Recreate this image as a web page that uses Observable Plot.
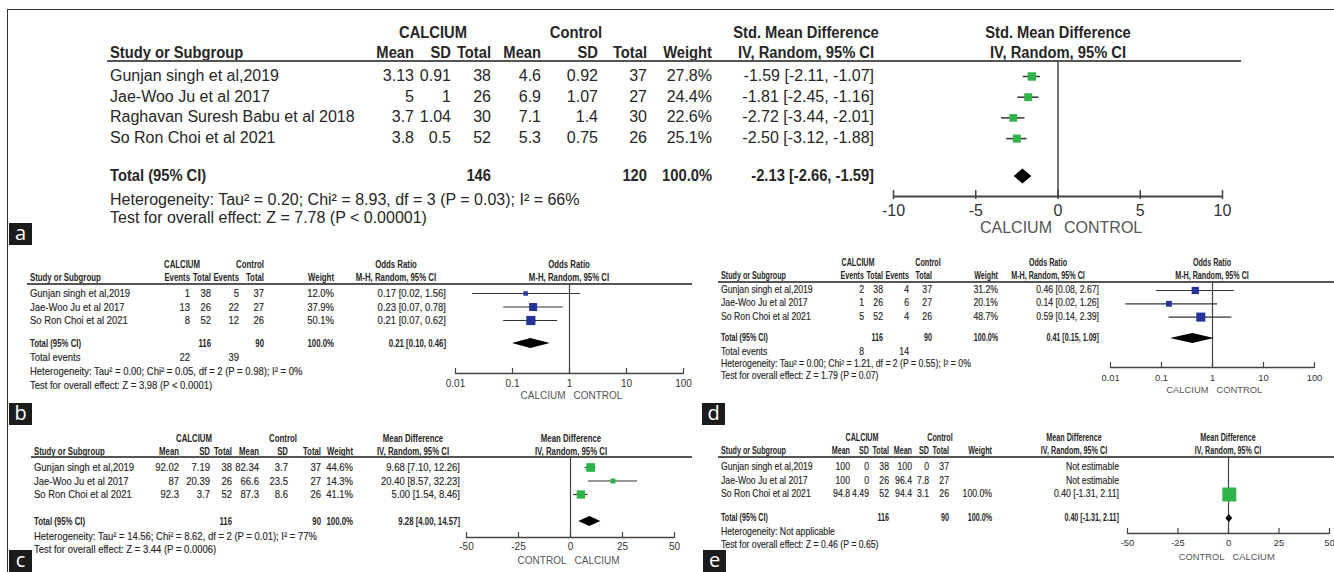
<!DOCTYPE html>
<html><head><meta charset="utf-8">
<script src="https://cdn.jsdelivr.net/npm/d3@7"></script>
<script src="https://cdn.jsdelivr.net/npm/@observablehq/plot@0.6"></script>
<style>
html,body{margin:0;padding:0;background:#fff;}
#root{position:relative;width:1334px;height:572px;overflow:hidden;font-family:"Liberation Sans",Arial,sans-serif;color:#262626;}
.t{position:absolute;white-space:nowrap;line-height:1;}
.lab{position:absolute;background:#1c1c1c;color:#fff;font-family:"Open Sans",sans-serif;font-size:20px;text-align:center;width:23px;height:22px;line-height:19px;}
</style></head><body><div id="root"></div>
<script>
// ---------------- DATA ----------------
// Panel a : Std. Mean Difference
const A_studies = ["Gunjan singh et al,2019","Jae-Woo Ju et al 2017","Raghavan Suresh Babu et al 2018","So Ron Choi et al 2021"];
const A_calMean = [3.13, 5, 3.7, 3.8];
const A_calSD = [0.91, 1, 1.04, 0.5];
const A_calN = [38, 26, 30, 52];
const A_conMean = [4.6, 6.9, 7.1, 5.3];
const A_conSD = [0.92, 1.07, 1.4, 0.75];
const A_conN = [37, 27, 30, 26];
const A_weight = [27.8, 24.4, 22.6, 25.1];
const A_est = [-1.59, -1.81, -2.72, -2.50];
const A_lo = [-2.11, -2.45, -3.44, -3.12];
const A_hi = [-1.07, -1.16, -2.01, -1.88];
const A_totalN = [146, 120];
const A_totalEst = [-2.13, -2.66, -1.59];
const A_notes = ["Heterogeneity: Tau\u00b2 = 0.20; Chi\u00b2 = 8.93, df = 3 (P = 0.03); I\u00b2 = 66%", "Test for overall effect: Z = 7.78 (P < 0.00001)"];
const A_ticks = [-10, -5, 0, 5, 10];
const A_side = ["CALCIUM", "CONTROL"];

// Panel b : Odds Ratio
const B_studies = ["Gunjan singh et al,2019","Jae-Woo Ju et al 2017","So Ron Choi et al 2021"];
const B_calEvents = [1, 13, 8];
const B_calTotal = [38, 26, 52];
const B_conEvents = [5, 22, 12];
const B_conTotal = [37, 27, 26];
const B_weight = [12.0, 37.9, 50.1];
const B_est = [0.17, 0.23, 0.21];
const B_lo = [0.02, 0.07, 0.07];
const B_hi = [1.56, 0.78, 0.62];
const B_totalN = [116, 90];
const B_totalEvents = [22, 39];
const B_totalEst = [0.21, 0.10, 0.46];
const B_notes = ["Heterogeneity: Tau\u00b2 = 0.00; Chi\u00b2 = 0.05, df = 2 (P = 0.98); I\u00b2 = 0%", "Test for overall effect: Z = 3.98 (P < 0.0001)"];

// Panel d : Odds Ratio
const D_studies = ["Gunjan singh et al,2019","Jae-Woo Ju et al 2017","So Ron Choi et al 2021"];
const D_calEvents = [2, 1, 5];
const D_calTotal = [38, 26, 52];
const D_conEvents = [4, 6, 4];
const D_conTotal = [37, 27, 26];
const D_weight = [31.2, 20.1, 48.7];
const D_est = [0.46, 0.14, 0.59];
const D_lo = [0.08, 0.02, 0.14];
const D_hi = [2.67, 1.26, 2.39];
const D_totalN = [116, 90];
const D_totalEvents = [8, 14];
const D_totalEst = [0.41, 0.15, 1.09];
const D_notes = ["Heterogeneity: Tau\u00b2 = 0.00; Chi\u00b2 = 1.21, df = 2 (P = 0.55); I\u00b2 = 0%", "Test for overall effect: Z = 1.79 (P = 0.07)"];

const OR_ticks = [0.01, 0.1, 1, 10, 100];
const OR_side = ["CALCIUM", "CONTROL"];

// Panel c : Mean Difference
const C_studies = ["Gunjan singh et al,2019","Jae-Woo Ju et al 2017","So Ron Choi et al 2021"];
const C_calMean = [92.02, 87, 92.3];
const C_calSD = [7.19, 20.39, 3.7];
const C_calN = [38, 26, 52];
const C_conMean = [82.34, 66.6, 87.3];
const C_conSD = [3.7, 23.5, 8.6];
const C_conN = [37, 27, 26];
const C_weight = [44.6, 14.3, 41.1];
const C_est = [9.68, 20.40, 5.00];
const C_lo = [7.10, 8.57, 1.54];
const C_hi = [12.26, 32.23, 8.46];
const C_totalN = [116, 90];
const C_totalEst = [9.28, 4.00, 14.57];
const C_notes = ["Heterogeneity: Tau\u00b2 = 14.56; Chi\u00b2 = 8.62, df = 2 (P = 0.01); I\u00b2 = 77%", "Test for overall effect: Z = 3.44 (P = 0.0006)"];

// Panel e : Mean Difference
const E_studies = ["Gunjan singh et al,2019","Jae-Woo Ju et al 2017","So Ron Choi et al 2021"];
const E_calMean = [100, 100, 94.8];
const E_calSD = [0, 0, 4.49];
const E_calN = [38, 26, 52];
const E_conMean = [100, 96.4, 94.4];
const E_conSD = [0, 7.8, 3.1];
const E_conN = [37, 27, 26];
const E_weight = [null, null, 100.0];
const E_est = [null, null, 0.40];
const E_lo = [null, null, -1.31];
const E_hi = [null, null, 2.11];
const E_totalN = [116, 90];
const E_totalEst = [0.40, -1.31, 2.11];
const E_notes = ["Heterogeneity: Not applicable", "Test for overall effect: Z = 0.46 (P = 0.65)"];

const MD_ticks = [-50, -25, 0, 25, 50];
const MD_side = ["CONTROL", "CALCIUM"];

// ---------------- HELPERS ----------------
const root = document.getElementById("root");
const GREEN = "#2fb449", BLUE = "#26349a";
function txt(x, y, s, o = {}) {
  const d = document.createElement("div");
  d.className = "t";
  d.textContent = s;
  d.style.left = x + "px";
  d.style.top = y + "px";
  d.style.fontSize = (o.size || 10) + "px";
  d.style.fontWeight = o.bold ? "bold" : "normal";
  if (o.stroke) d.style.webkitTextStroke = o.stroke + "px #262626";
  const tx = o.anchor === "end" ? "-100%" : o.anchor === "middle" ? "-50%" : "0";
  const ox = o.anchor === "end" ? "100%" : o.anchor === "middle" ? "50%" : "0";
  d.style.transformOrigin = `${ox} 50%`;
  d.style.transform = `translate(${tx},-50%) scaleX(${o.sx || 1})`;
  root.appendChild(d);
}
function box(x, y, w, h, css) {
  const d = document.createElement("div");
  d.style.position = "absolute";
  d.style.left = x + "px"; d.style.top = y + "px";
  d.style.width = w + "px"; d.style.height = h + "px";
  Object.assign(d.style, css);
  root.appendChild(d);
  return d;
}
const f2 = v => v.toFixed(2);
const ciStr = (e, l, h) => e == null ? "Not estimable" : `${f2(e)} [${f2(l)}, ${f2(h)}]`;
const wStr = w => w == null ? "" : w.toFixed(1) + "%";

function table(P, L) {
  const R = {size: L.fs, sx: L.sxR, stroke: L.stroke};
  const B = {size: L.fs, sx: L.sxB, bold: true};
  txt(L.grp[0], L.h1Y, "CALCIUM", {...B, anchor: "middle"});
  txt(L.grp[1], L.h1Y, "Control", {...B, anchor: "middle"});
  txt(L.measX, L.h1Y, P.measure, {...B, anchor: "middle"});
  txt(L.plotC, L.h1Y, P.measure, {...B, anchor: "middle"});
  txt(L.studyX, L.h2Y, "Study or Subgroup", B);
  P.heads.forEach((h, i) => txt(L.colR[i], L.h2Y, h, {...B, anchor: "end"}));
  txt(L.measX, L.h2Y, P.method, {...B, anchor: "middle"});
  txt(L.plotC, L.h2Y, P.method, {...B, anchor: "middle"});
  box(L.studyX - 3, L.lineY - L.lineW / 2, L.lineX2 - L.studyX + 3, 0, {borderTop: `${L.lineW}px solid #555`});
  P.studies.forEach((s, r) => {
    const y = L.row0 + r * L.step;
    txt(L.studyX, y, s, R);
    P.cells[r].forEach((c, i) => txt(L.colR[i], y, String(c), {...R, anchor: "end"}));
    txt(L.ciR, y, P.ci[r], {...R, anchor: "end"});
  });
  txt(L.studyX, L.totalY, "Total (95% CI)", B);
  P.totalCells.forEach((c, i) => { if (c !== "") txt(L.colR[i], L.totalY, String(c), {...B, anchor: "end"}); });
  txt(L.ciR, L.totalY, P.totalCI, {...B, anchor: "end"});
  if (P.totalEvents) {
    txt(L.studyX, L.evY, "Total events", R);
    P.totalEvents.forEach((c, i) => { if (c !== "") txt(L.colR[i], L.evY, String(c), {...R, anchor: "end"}); });
  }
  P.notes.forEach((n, i) => txt(L.studyX, L.noteY[i], n, R));
}

function forest(P, L) {
  const top = L.lineY - 3, bottom = L.sideY + 12;
  const left = L.plotX[0] - 30, right = L.plotX[1] + 30;
  const W = right - left, H = bottom - top;
  const slot = px => (px - L.row0) / L.step;
  const items = P.est.map((e, i) => ({i, est: e, lo: P.lo[i], hi: P.hi[i], w: P.weight[i]})).filter(d => d.est != null);
  const [tE, tL, tH] = P.totalEst;
  const ts = slot(L.totalY), hs = L.diaH / L.step;
  const dia = [{y: ts - hs, a: tE, b: tE}, {y: ts, a: tL, b: tH}, {y: ts + hs, a: tE, b: tE}];
  const ay = slot(L.axisY);
  const ref = P.log ? 1 : 0;
  const svg = Plot.plot({
    width: W, height: H, margin: 0,
    x: {type: P.log ? "log" : "linear", domain: P.domain, range: [L.plotX[0] - left, L.plotX[1] - left], axis: null},
    y: {type: "linear", domain: [0, 1], range: [L.row0 - top, L.row0 + L.step - top], axis: null},
    r: {type: "sqrt", domain: [0, 100], range: [0, L.sqMax / Math.sqrt(Math.PI)]},
    style: {fontFamily: '"Liberation Sans", Arial, sans-serif', color: "#262626", background: "transparent", overflow: "visible"},
    marks: [
      Plot.ruleX([ref], {y1: slot(L.lineY), y2: ay, stroke: "#444", strokeWidth: L.lw}),
      Plot.ruleY([ay], {x1: P.domain[0], x2: P.domain[1], stroke: "#444", strokeWidth: L.aw}),
      Plot.ruleX(P.ticks, {y1: slot(L.axisY - L.tickUp), y2: slot(L.axisY + L.tickDown), stroke: "#444", strokeWidth: L.lw}),
      Plot.text(P.ticks, {x: d => d, y: slot(L.tickY), text: d => String(d), fontSize: L.tfs, fill: "#333"}),
      Plot.text([P.side[0]], {x: ref, y: slot(L.sideY), text: d => d, textAnchor: "end", dx: -L.sideGap, fontSize: L.tfs, fill: "#555"}),
      Plot.text([P.side[1]], {x: ref, y: slot(L.sideY), text: d => d, textAnchor: "start", dx: L.sideGap, fontSize: L.tfs, fill: "#555"}),
      Plot.ruleY(items, {y: "i", x1: "lo", x2: "hi", stroke: "#333", strokeWidth: L.lw}),
      Plot.dot(items, {x: "est", y: "i", r: "w", symbol: "square", fill: P.color, stroke: null}),
      Plot.areaX(dia, {y: "y", x1: "a", x2: "b", fill: "#000", curve: "linear"})
    ]
  });
  svg.style.position = "absolute";
  svg.style.left = left + "px";
  svg.style.top = top + "px";
  root.appendChild(svg);
}

// ---------------- PANELS ----------------
function mdCells(m1, s1, n1, m2, s2, n2, w) { return m1.map((_, i) => [m1[i], s1[i], n1[i], m2[i], s2[i], n2[i], wStr(w[i])]); }
function orCells(e1, t1, e2, t2, w) { return e1.map((_, i) => [e1[i], t1[i], e2[i], t2[i], wStr(w[i])]); }

const left7 = {fs: 11, sxR: 0.86, sxB: 0.71, stroke: 0.15, lineW: 2, tickUp: 5, tickDown: 1, tfs: 10, sideGap: 4, lw: 1.2, aw: 1.5, diaH: 5};
const right7 = {...left7, fs: 10.1, tfs: 9.4};

const panels = [
  { // a
    P: {measure: "Std. Mean Difference", method: "IV, Random, 95% CI", heads: ["Mean","SD","Total","Mean","SD","Total","Weight"],
        studies: A_studies, cells: mdCells(A_calMean, A_calSD, A_calN, A_conMean, A_conSD, A_conN, A_weight),
        ci: A_est.map((e, i) => ciStr(e, A_lo[i], A_hi[i])), totalCells: ["", "", A_totalN[0], "", "", A_totalN[1], "100.0%"],
        totalCI: ciStr(...A_totalEst), notes: A_notes, est: A_est, lo: A_lo, hi: A_hi, weight: A_weight, totalEst: A_totalEst,
        log: false, domain: [-10, 10], ticks: A_ticks, side: A_side, color: GREEN},
    L: {fs: 16, sxR: 1, sxB: 0.92, studyX: 110, colR: [414, 451, 491, 541, 598, 647, 712], ciR: 874, measX: 806, grp: [433, 576], plotC: 1058,
        h1Y: 33, h2Y: 53, lineY: 61, lineW: 2.5, lineX2: 1241, row0: 76, step: 20.7, totalY: 176, noteY: [200, 218],
        plotX: [893, 1222], axisY: 196, tickY: 210, sideY: 227, tickUp: 6, tickDown: 3, tfs: 16, sideGap: 6,
        lw: 1.5, aw: 2, sqMax: 16, diaH: 7.5}
  },
  { // b
    P: {measure: "Odds Ratio", method: "M-H, Random, 95% CI", heads: ["Events","Total","Events","Total","Weight"],
        studies: B_studies, cells: orCells(B_calEvents, B_calTotal, B_conEvents, B_conTotal, B_weight),
        ci: B_est.map((e, i) => ciStr(e, B_lo[i], B_hi[i])), totalCells: ["", B_totalN[0], "", B_totalN[1], "100.0%"],
        totalCI: ciStr(...B_totalEst), totalEvents: [B_totalEvents[0], "", B_totalEvents[1]], notes: B_notes,
        est: B_est, lo: B_lo, hi: B_hi, weight: B_weight, totalEst: B_totalEst,
        log: true, domain: [0.01, 100], ticks: OR_ticks, side: OR_side, color: BLUE},
    L: {...left7, studyX: 30, colR: [190, 211, 239, 264, 334], ciR: 446, measX: 396, grp: [182, 250], plotC: 569,
        h1Y: 264, h2Y: 277, lineY: 284, lineX2: 692, row0: 293, step: 13.5, totalY: 343, evY: 357, noteY: [371, 385],
        plotX: [455, 683], axisY: 373, tickY: 383, sideY: 395, sqMax: 13}
  },
  { // d
    P: {measure: "Odds Ratio", method: "M-H, Random, 95% CI", heads: ["Events","Total","Events","Total","Weight"],
        studies: D_studies, cells: orCells(D_calEvents, D_calTotal, D_conEvents, D_conTotal, D_weight),
        ci: D_est.map((e, i) => ciStr(e, D_lo[i], D_hi[i])), totalCells: ["", D_totalN[0], "", D_totalN[1], "100.0%"],
        totalCI: ciStr(...D_totalEst), totalEvents: [D_totalEvents[0], "", D_totalEvents[1]], notes: D_notes,
        est: D_est, lo: D_lo, hi: D_hi, weight: D_weight, totalEst: D_totalEst,
        log: true, domain: [0.01, 100], ticks: OR_ticks, side: OR_side, color: BLUE},
    L: {...right7, studyX: 721, colR: [864, 883, 909, 932, 998], ciR: 1099, measX: 1048, grp: [858, 928], plotC: 1212,
        h1Y: 263, h2Y: 276, lineY: 282, lineX2: 1334, row0: 290, step: 13.3, totalY: 338, evY: 352, noteY: [364, 376],
        plotX: [1110, 1314], axisY: 367, tickY: 377, sideY: 389, sqMax: 13}
  },
  { // c
    P: {measure: "Mean Difference", method: "IV, Random, 95% CI", heads: ["Mean","SD","Total","Mean","SD","Total","Weight"],
        studies: C_studies, cells: mdCells(C_calMean, C_calSD, C_calN, C_conMean, C_conSD, C_conN, C_weight),
        ci: C_est.map((e, i) => ciStr(e, C_lo[i], C_hi[i])), totalCells: ["", "", C_totalN[0], "", "", C_totalN[1], "100.0%"],
        totalCI: ciStr(...C_totalEst), notes: C_notes, est: C_est, lo: C_lo, hi: C_hi, weight: C_weight, totalEst: C_totalEst,
        log: false, domain: [-50, 50], ticks: MD_ticks, side: MD_side, color: GREEN},
    L: {...left7, studyX: 34, colR: [179, 210, 232, 259, 288, 321, 353], ciR: 460, measX: 413, grp: [194, 283], plotC: 571,
        h1Y: 438, h2Y: 451, lineY: 457, lineX2: 692, row0: 467, step: 13.5, totalY: 521, noteY: [536, 549],
        plotX: [466, 674], axisY: 537, tickY: 546, sideY: 560, sqMax: 13}
  },
  { // e
    P: {measure: "Mean Difference", method: "IV, Random, 95% CI", heads: ["Mean","SD","Total","Mean","SD","Total","Weight"],
        studies: E_studies, cells: mdCells(E_calMean, E_calSD, E_calN, E_conMean, E_conSD, E_conN, E_weight),
        ci: E_est.map((e, i) => ciStr(e, E_lo[i], E_hi[i])), totalCells: ["", "", E_totalN[0], "", "", E_totalN[1], "100.0%"],
        totalCI: ciStr(...E_totalEst), notes: E_notes, est: E_est, lo: E_lo, hi: E_hi, weight: E_weight, totalEst: E_totalEst,
        log: false, domain: [-50, 50], ticks: MD_ticks, side: MD_side, color: GREEN},
    L: {...right7, studyX: 721, colR: [850, 869, 889, 912, 929, 949, 992], ciR: 1119, measX: 1074, grp: [862, 940], plotC: 1228,
        h1Y: 438, h2Y: 451, lineY: 457, lineX2: 1334, row0: 467, step: 13.5, totalY: 518, noteY: [532, 545],
        plotX: [1127, 1329], axisY: 533, tickY: 542, sideY: 556, sqMax: 14, diaH: 4}
  }
];

// frame lines
box(7, 9, 1327, 0, {borderTop: "1.5px solid #333"});
box(7, 9, 0, 563, {borderLeft: "1.5px solid #333"});

panels.forEach(({P, L}) => { table(P, L); forest(P, L); });

// panel letters
[["a", 9, 223], ["b", 9, 403], ["c", 9, 550], ["d", 702, 403], ["e", 703, 550]].forEach(([s, x, y]) => {
  const d = box(x, y, 23, 22, {});
  d.className = "lab";
  d.textContent = s;
});
</script></body></html>
